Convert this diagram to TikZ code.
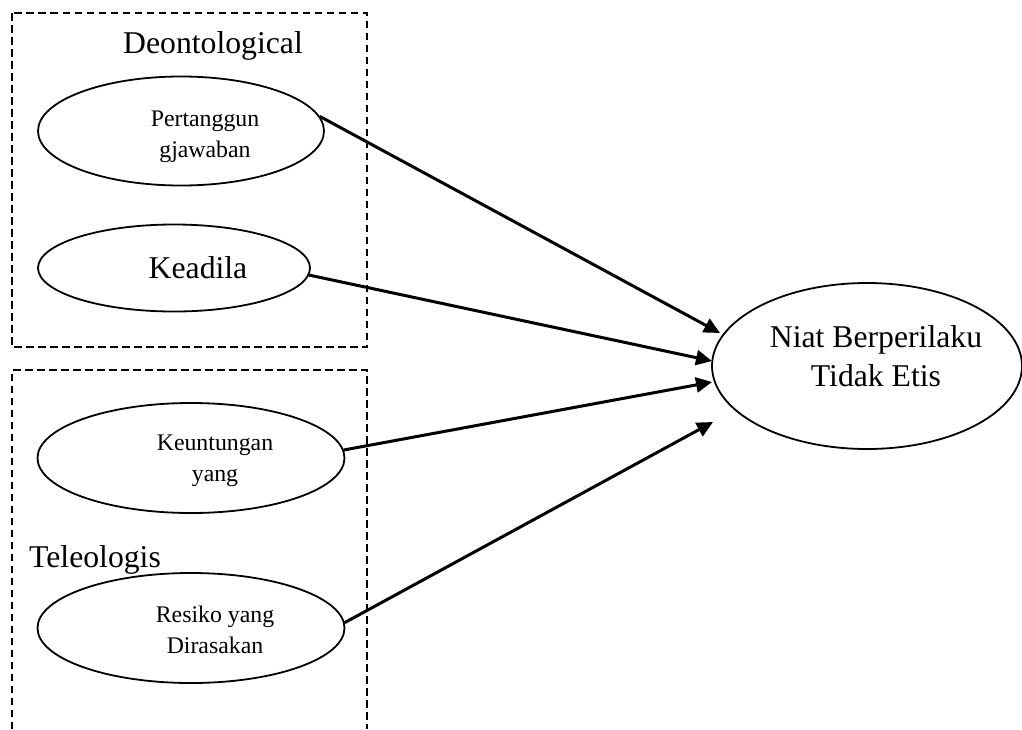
\documentclass[tikz,border=0pt]{standalone}
\usepackage{fontspec}
\setmainfont{Liberation Serif}
\usetikzlibrary{shapes.geometric,arrows.meta}
\begin{document}
\begin{tikzpicture}[x=1pt,y=-1pt,
  oval/.style={draw,ellipse,line width=1.8pt,inner sep=0pt},
  bigtxt/.style={inner sep=0pt,font=\fontsize{31.7}{39}\selectfont,align=center},
  smalltxt/.style={inner sep=0pt,font=\fontsize{23.8}{31}\selectfont,align=center},
  grpbox/.style={line width=1.6pt,dash pattern=on 7.5pt off 4.5pt},
  conn/.style={line width=3pt,-{Triangle[length=16pt,width=15pt]}}]
\useasboundingbox (0,0) rectangle (1022,729);
% group boxes
\draw[grpbox] (12,13) rectangle (367,347);
\draw[grpbox] (12,729) -- (12,370) -- (367,370) -- (367,729);
\node[bigtxt,anchor=base] (deon) at (213,53) {Deontological};
\node[bigtxt,anchor=base west] (tele) at (29,567) {Teleologis};
% ellipses
\node[oval,minimum width=286pt,minimum height=109pt] (e1) at (181,131) {};
\node[smalltxt] (t1) at (205,137) {Pertanggun\\gjawaban};
\node[oval,minimum width=272pt,minimum height=87pt] (e2) at (174,268) {};
\node[bigtxt,anchor=base] (t2) at (198,278) {Keadila};
\node[oval,minimum width=307pt,minimum height=110pt] (e3) at (191,458) {};
\node[smalltxt] (t3) at (215,461) {Keuntungan\\yang};
\node[oval,minimum width=307pt,minimum height=110pt] (e4) at (191,628) {};
\node[smalltxt] (t4) at (215,630) {Resiko yang\\Dirasakan};
\node[oval,minimum width=310pt,minimum height=166pt] (e5) at (867,366) {};
\node[bigtxt] (t5) at (876,356) {Niat Berperilaku\\Tidak Etis};
% arrow ends
\coordinate (p1) at (720,333);
\coordinate (p2) at (712,361);
\coordinate (p3) at (712,382);
\coordinate (p4) at (713,422);
\draw[conn] (e1.6) -- (p1);
\draw[conn] (e2.-3) -- (p2);
\draw[conn] (e3.3) -- (p3);
\draw[conn] (e4.2) -- (p4);
\end{tikzpicture}
\end{document}
